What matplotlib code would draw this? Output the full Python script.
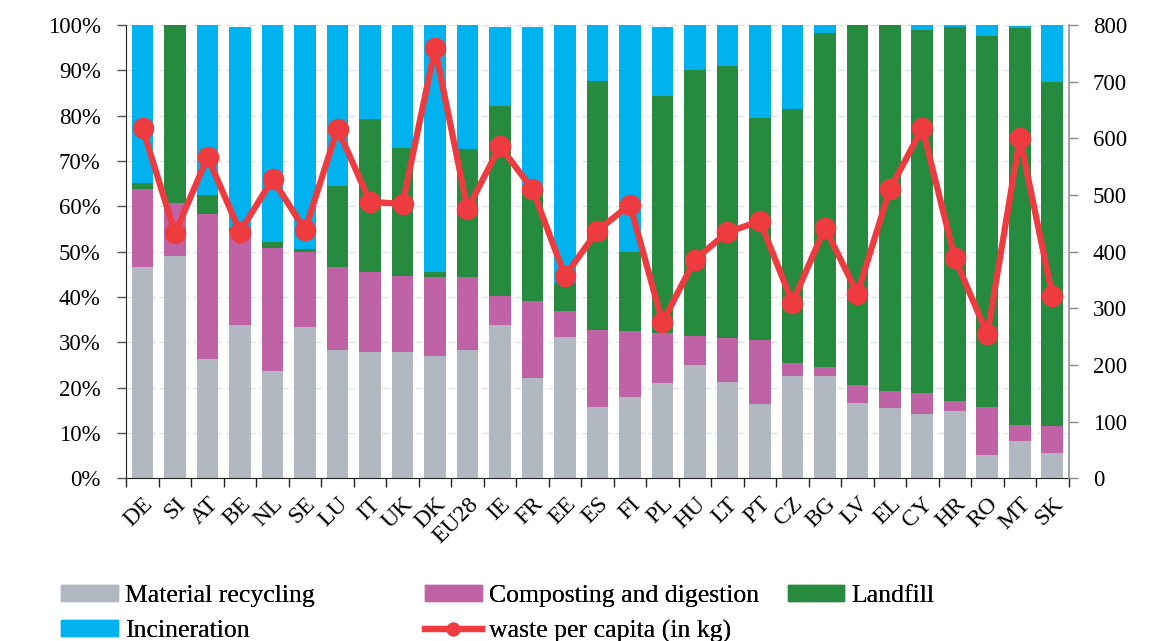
import numpy as np
import matplotlib
matplotlib.use("Agg")
import matplotlib.pyplot as plt
from matplotlib.lines import Line2D
from matplotlib.patches import Patch

# ── Data (shares in %, waste in kg per capita) ────────────────
countries = ["DE", "SI", "AT", "BE", "NL", "SE", "LU", "IT", "UK", "DK",
             "EU28", "IE", "FR", "EE", "ES", "FI", "PL", "HU", "LT", "PT",
             "CZ", "BG", "LV", "EL", "CY", "HR", "RO", "MT", "SK"]

recycling = [46.7, 49.0, 26.3, 33.8, 23.7, 33.3, 28.2, 27.9, 27.9, 27.0,
             28.2, 33.8, 22.1, 31.2, 15.7, 18.0, 21.0, 25.0, 21.3, 16.3,
             22.6, 22.6, 16.5, 15.5, 14.2, 14.9, 5.1, 8.1, 5.6]
composting = [17.1, 11.7, 32.0, 20.6, 27.1, 16.5, 18.5, 17.5, 16.8, 17.3,
              16.1, 6.5, 17.0, 5.7, 17.0, 14.5, 11.0, 6.4, 9.7, 14.2,
              2.9, 2.0, 4.1, 3.8, 4.6, 2.2, 10.7, 3.7, 6.0]
landfill = [1.3, 39.3, 4.2, 0.7, 1.4, 0.7, 17.8, 33.9, 28.2, 1.2,
            28.3, 41.8, 25.4, 6.1, 55.0, 17.5, 52.4, 58.6, 59.9, 48.9,
            56.0, 73.6, 79.4, 80.7, 80.2, 82.5, 81.8, 87.6, 75.9]
incineration = [34.9, 0.0, 37.5, 44.5, 47.8, 49.5, 35.5, 20.7, 27.1, 54.5,
                27.4, 17.5, 35.1, 57.0, 12.3, 50.0, 15.1, 10.0, 9.1, 20.6,
                18.5, 1.8, 0.0, 0.0, 1.0, 0.4, 2.4, 0.4, 12.5]
waste_kg = [618, 432, 567, 435, 528, 438, 617, 488, 484, 759,
            475, 586, 510, 357, 437, 483, 275, 386, 434, 454,
            310, 442, 326, 510, 618, 388, 254, 601, 322]

C_REC = "#B2B8C2"
C_COMP = "#C063A6"
C_LAND = "#268A3F"
C_INC = "#00B2EE"
C_LINE = "#EE3B3F"

plt.rcParams["font.family"] = ["Liberation Serif", "DejaVu Serif"]
FS = 16.5
LFS = 18.5

fig = plt.figure(figsize=(11.59, 6.41), dpi=100)
ax = fig.add_axes([0.109, 0.254, 0.813, 0.707])

x = np.arange(len(countries))
w = 0.67
rec = np.array(recycling)
comp = np.array(composting)
land = np.array(landfill)
inc = np.array(incineration)

ax.bar(x, rec, w, color=C_REC, zorder=2)
ax.bar(x, comp, w, bottom=rec, color=C_COMP, zorder=2)
ax.bar(x, land, w, bottom=rec + comp, color=C_LAND, zorder=2)
ax.bar(x, inc, w, bottom=rec + comp + land, color=C_INC, zorder=2)

ax.set_xlim(-0.5, len(countries) - 0.5)
ax.set_ylim(0, 100)
ax.set_yticks(np.arange(0, 101, 10))
ax.set_yticklabels([f"{v}%" for v in range(0, 101, 10)], fontsize=FS)
ax.yaxis.grid(True, color="#DCE1EA", linestyle=(0, (5, 3)), linewidth=1.0, zorder=0)
ax.set_axisbelow(True)

ax.set_xticks(x)
ax.set_xticklabels(countries, rotation=45, ha="right", va="top",
                   rotation_mode="anchor", fontsize=FS + 0.5)
ax.tick_params(axis="x", which="major", length=0, pad=11)
ax.set_xticks(np.arange(-0.5, len(countries)), minor=True)
ax.tick_params(axis="x", which="minor", length=6.5, width=1, color="#222222")
ax.tick_params(axis="y", length=6.5, width=1, color="#555555", pad=12)

for s in ["top", "right"]:
    ax.spines[s].set_visible(False)
ax.spines["left"].set_color("#222222")
ax.spines["bottom"].set_color("#222222")

ax2 = ax.twinx()
ax2.plot(x, waste_kg, color=C_LINE, linewidth=4.5, marker="o",
         markersize=14.5, zorder=5)
ax2.set_ylim(0, 800)
ax2.set_yticks(np.arange(0, 801, 100))
ax2.tick_params(axis="y", labelsize=FS, length=6.5, width=1, color="#888888", pad=11)
for s in ["top", "left", "bottom"]:
    ax2.spines[s].set_visible(False)
ax2.spines["right"].set_color("#8E9196")
ax2.spines["right"].set_linewidth(1.2)

# legend: three separate columns, placed like the original
col1 = [Patch(color=C_REC, label="Material recycling"),
        Patch(color=C_INC, label="Incineration")]
col2 = [Patch(color=C_COMP, label="Composting and digestion"),
        Line2D([0], [0], color=C_LINE, linewidth=4.5, marker="o", markersize=9,
               label="waste per capita (in kg)")]
col3 = [Patch(color=C_LAND, label="Landfill")]

for hs, x0 in [(col1, 0.044), (col2, 0.358), (col3, 0.671)]:
    leg = fig.legend(handles=hs, loc="upper left", bbox_to_anchor=(x0, 0.103),
                     frameon=False, fontsize=LFS, handlelength=2.2,
                     handleheight=0.55, handletextpad=0.27, labelspacing=0.5,
                     borderaxespad=0)
    fig.add_artist(leg)

fig.savefig("out.png", dpi=100)
